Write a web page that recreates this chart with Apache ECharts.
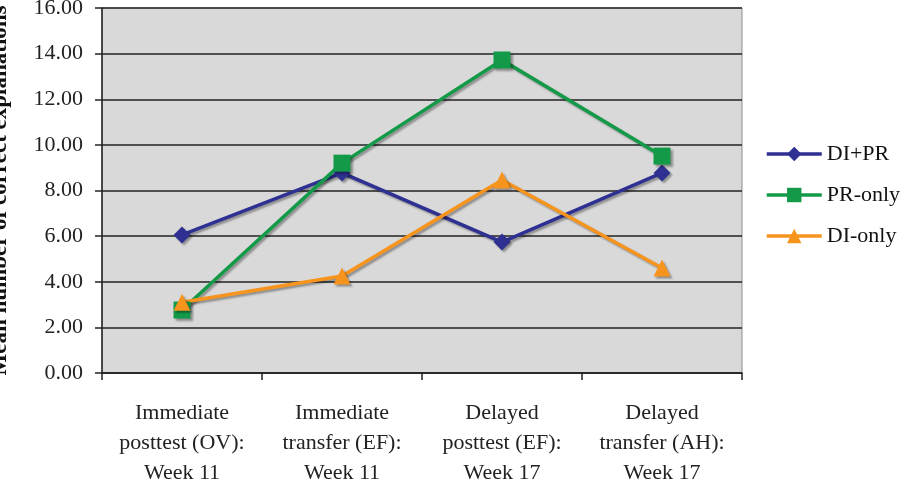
<!DOCTYPE html>
<html>
<head>
<meta charset="utf-8">
<script src="https://cdn.jsdelivr.net/npm/echarts@6/dist/echarts.min.js"></script>
<style>
  html, body { margin: 0; padding: 0; background: #fff; }
  #chart { width: 912px; height: 492px; }
</style>
</head>
<body>
<div id="chart"></div>
<script>
const categories = [
  'Immediate\nposttest (OV):\nWeek 11',
  'Immediate\ntransfer (EF):\nWeek 11',
  'Delayed\nposttest (EF):\nWeek 17',
  'Delayed\ntransfer (AH):\nWeek 17'
];
const diPr = [6.05, 8.77, 5.74, 8.77];
const prOnly = [2.76, 9.2, 13.72, 9.51];
const diOnly = [3.1, 4.25, 8.46, 4.6];

const font = 'Liberation Serif';
const chart = echarts.init(document.getElementById('chart'));

function line(name, data, color, symbol, size) {
  return {
    name: name,
    type: 'line',
    data: data,
    symbol: symbol,
    symbolSize: size,
    color: color,
    lineStyle: {
      width: 3.5,
      color: color,
      shadowColor: 'rgba(0,0,0,0.35)',
      shadowOffsetX: 2,
      shadowOffsetY: 2,
      shadowBlur: 2
    },
    itemStyle: {
      color: color,
      shadowColor: 'rgba(0,0,0,0.35)',
      shadowOffsetX: 2,
      shadowOffsetY: 2,
      shadowBlur: 2
    },
    animation: false
  };
}

chart.setOption({
  backgroundColor: '#fff',
  textStyle: { fontFamily: font },
  grid: {
    left: 102,
    top: 8,
    width: 640,
    height: 365,
    containLabel: false,
    outerBoundsMode: 'none',
    show: true,
    backgroundColor: '#d9d9d9',
    borderColor: '#8c8c8c',
    borderWidth: 1
  },
  legend: {
    orient: 'vertical',
    left: 765,
    top: 143,
    padding: 0,
    itemWidth: 55,
    itemHeight: 18,
    itemGap: 19,
    lineStyle: { width: 3.5, shadowBlur: 0, shadowOffsetX: 0, shadowOffsetY: 0 },
    itemStyle: { shadowBlur: 0, shadowOffsetX: 0, shadowOffsetY: 0 },
    textStyle: { fontFamily: font, fontSize: 22, color: '#111' },
    data: ['DI+PR', 'PR-only', 'DI-only']
  },
  xAxis: {
    type: 'category',
    data: categories,
    boundaryGap: true,
    axisLine: { lineStyle: { color: '#222', width: 1.5 } },
    axisTick: { show: true, interval: 0, length: 7, lineStyle: { color: '#222', width: 1.5 } },
    axisLabel: {
      interval: 0,
      fontFamily: font,
      fontSize: 22,
      color: '#222',
      lineHeight: 30,
      margin: 25
    }
  },
  yAxis: {
    type: 'value',
    min: 0,
    max: 16,
    interval: 2,
    name: 'Mean number of correct explanations',
    nameLocation: 'middle',
    nameGap: 90,
    nameTextStyle: { fontFamily: font, fontSize: 23, fontWeight: 'bold', color: '#111' },
    axisLine: { show: true, lineStyle: { color: '#222', width: 1.5 } },
    axisTick: { show: true, length: 7, lineStyle: { color: '#222', width: 1.5 } },
    axisLabel: {
      fontFamily: font,
      fontSize: 22,
      color: '#222',
      margin: 19,
      formatter: v => v.toFixed(2)
    },
    splitLine: { lineStyle: { color: '#222', width: 1.5 } }
  },
  series: [
    line('DI+PR', diPr, '#2e3192', 'diamond', 17),
    line('PR-only', prOnly, '#139a48', 'rect', 17),
    line('DI-only', diOnly, '#f7941d', 'triangle', 17)
  ]
});
</script>
</body>
</html>
